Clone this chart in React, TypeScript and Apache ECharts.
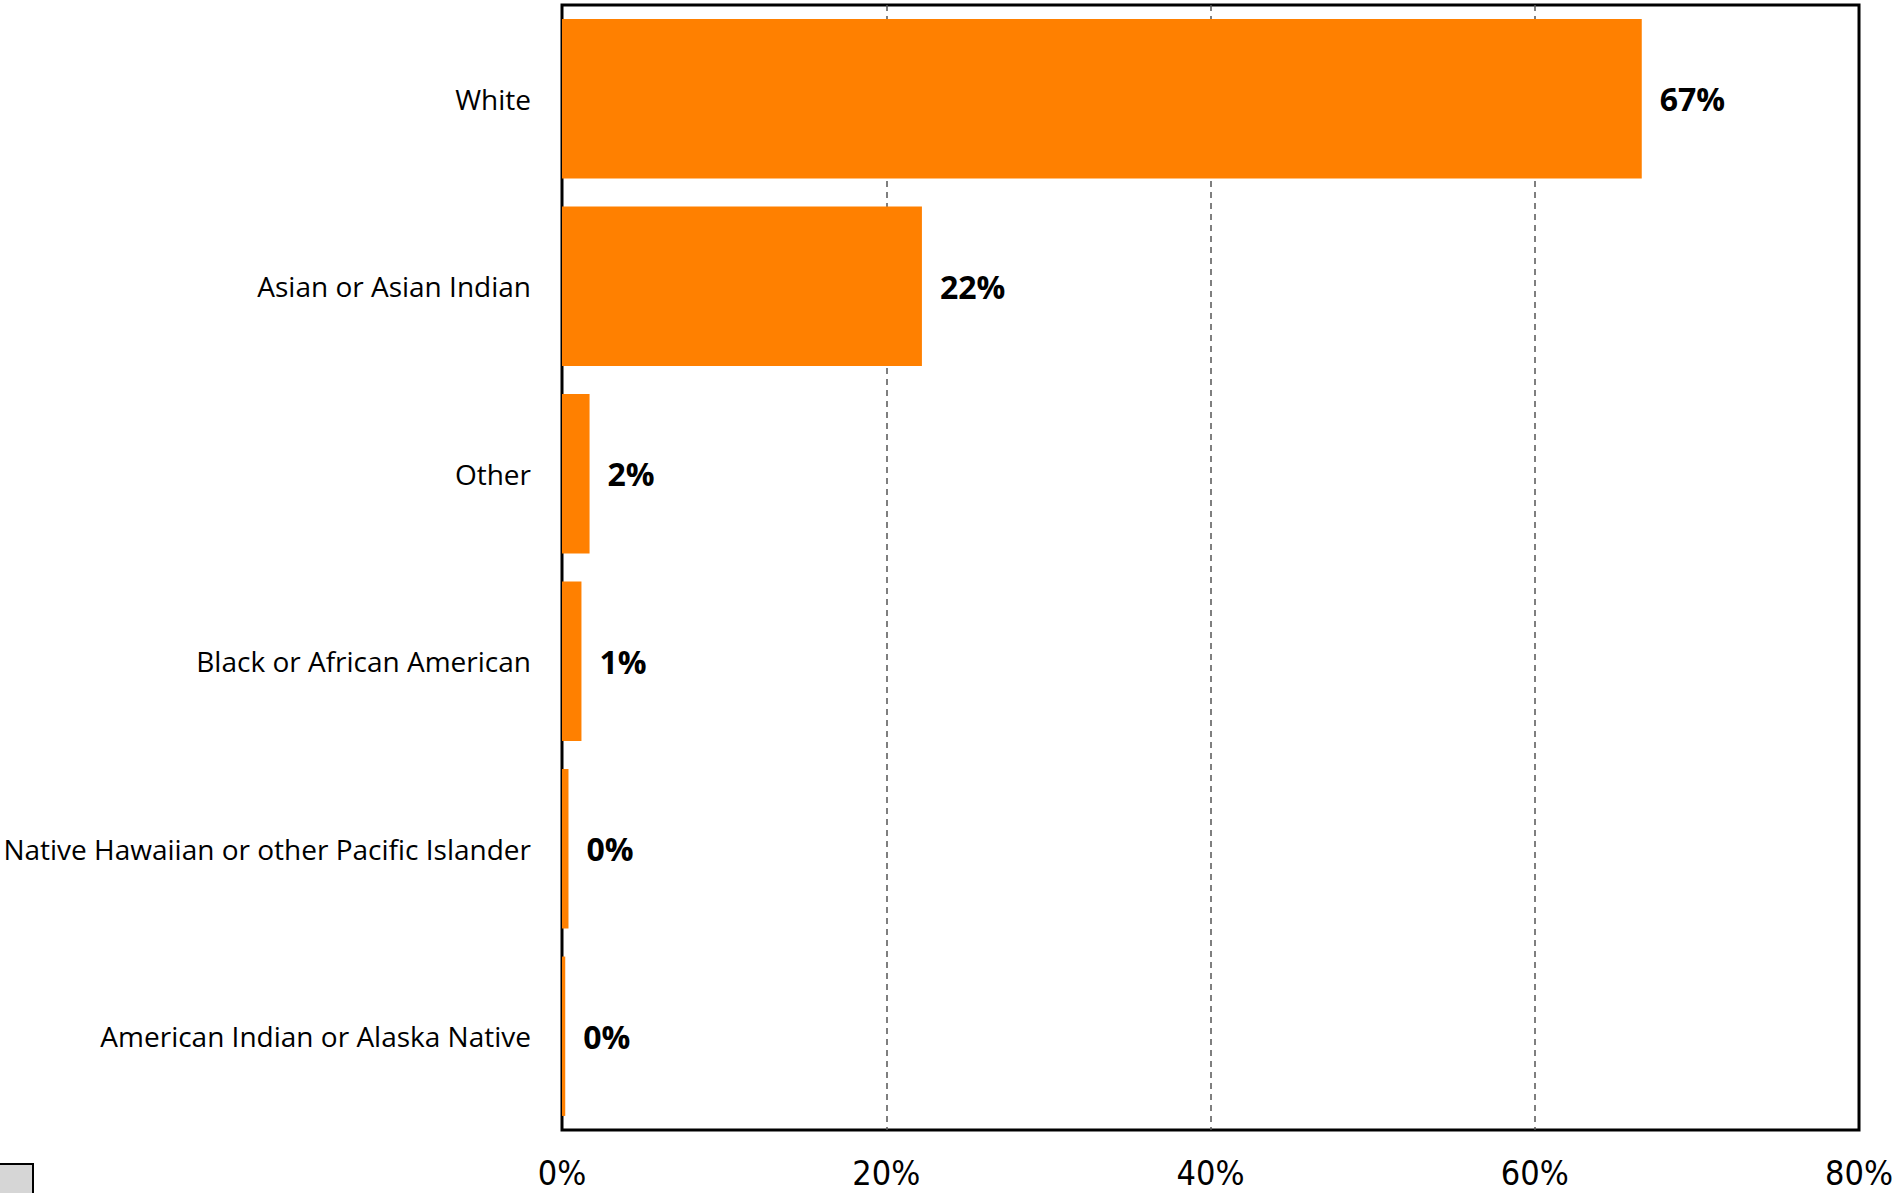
import React, { useEffect, useRef } from "react";
import * as echarts from "echarts";

const categories = [
  "White",
  "Asian or Asian Indian",
  "Other",
  "Black or African American",
  "Native Hawaiian or other Pacific Islander",
  "American Indian or Alaska Native",
];
const shares = [66.6, 22.2, 1.7, 1.2, 0.4, 0.2];
const axisMin = 0;
const axisMax = 80;
const axisStep = 20;

export default function App() {
  const ref = useRef<HTMLDivElement>(null);
  useEffect(() => {
    const chart = echarts.init(ref.current!, null, { renderer: "svg" });
    chart.setOption({
      animation: false,
      backgroundColor: "#ffffff",
      grid: {
        left: 562,
        right: 36,
        top: 5,
        bottom: 63,
        show: true,
        borderColor: "#000000",
        borderWidth: 3,
        backgroundColor: "transparent",
      },
      xAxis: {
        type: "value",
        min: axisMin,
        max: axisMax,
        interval: axisStep,
        axisLine: { show: false },
        axisTick: { show: false },
        splitLine: {
          show: true,
          showMinLine: false,
          showMaxLine: false,
          lineStyle: { type: [6, 5], color: "#555555", width: 1.5 },
        },
        axisLabel: {
          formatter: (v: number) => `${v}%`,
          fontFamily: "'Liberation Sans Narrow', 'DejaVu Sans Condensed', sans-serif",
          fontSize: 34,
          color: "#000000",
          margin: 26,
        },
      },
      yAxis: {
        type: "category",
        data: categories,
        inverse: true,
        axisLine: { show: false },
        axisTick: { show: false },
        splitLine: { show: false },
        axisLabel: {
          fontFamily: "'Open Sans', sans-serif",
          fontSize: 28,
          color: "#000000",
          margin: 31,
        },
      },
      series: [
        {
          type: "bar",
          data: shares,
          barCategoryGap: "15%",
          itemStyle: { color: "#FF8000" },
          label: {
            show: true,
            position: "right",
            distance: 18,
            formatter: (p: any) => `${Math.round(p.value)}%`,
            fontFamily: "'Open Sans', sans-serif",
            fontWeight: "bold",
            fontSize: 32,
            color: "#000000",
          },
        },
      ],
      graphic: [
        {
          type: "rect",
          left: -2,
          top: 1163,
          shape: { width: 34, height: 40 },
          style: { fill: "#d6d6d6", stroke: "#000000", lineWidth: 2 },
        },
      ],
    });
    return () => chart.dispose();
  }, []);
  return (
    <div
      ref={ref}
      style={{ position: "fixed", left: 0, top: 0, width: 1896, height: 1193 }}
    />
  );
}
